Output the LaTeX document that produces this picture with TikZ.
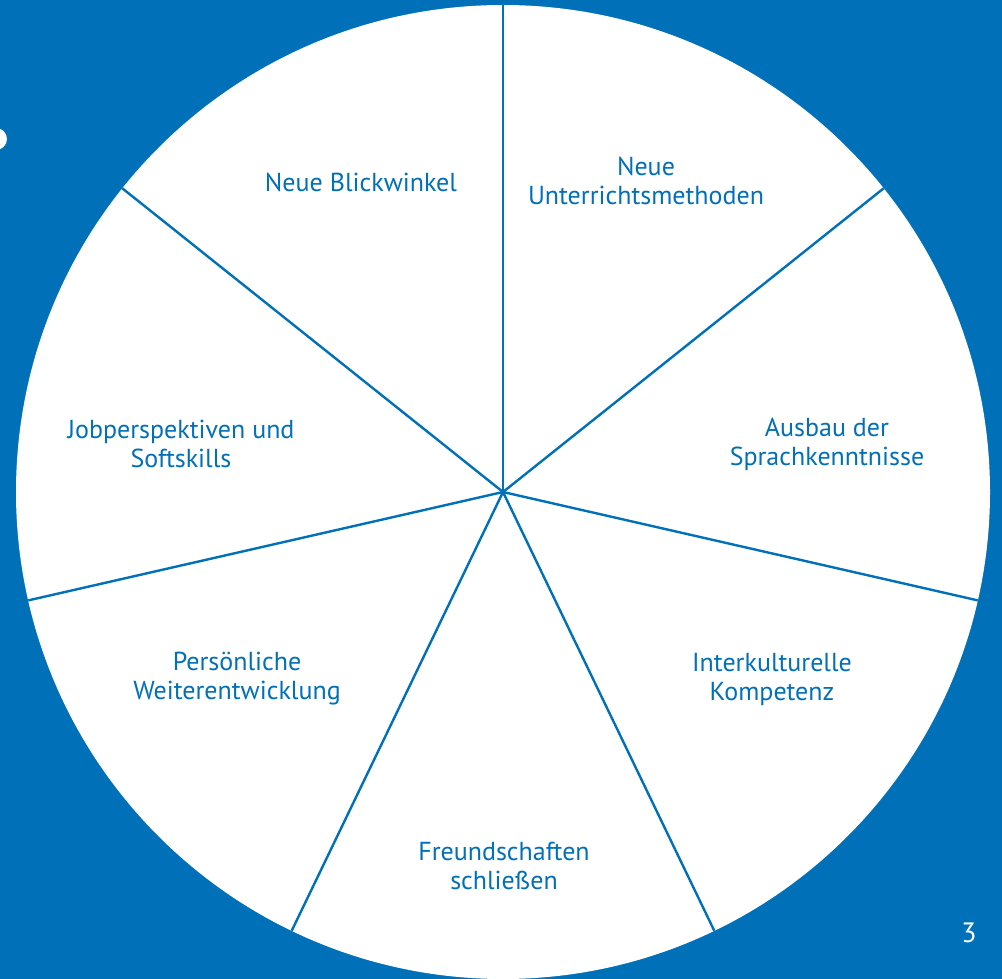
\documentclass[tikz,border=0pt]{standalone}
\usepackage{fontspec}
\setmainfont{PT Sans}
\definecolor{wheelblue}{HTML}{0070B8}
\tikzset{
  segtext/.style={align=center, text=wheelblue, font=\fontsize{26}{29}\selectfont},
  spoke/.style={draw=wheelblue, line width=2.4pt}
}
\begin{document}
\begin{tikzpicture}[x=1pt,y=-1pt]
    \useasboundingbox (0,0) rectangle (1002,979);
    \clip (0,0) rectangle (1002,979);
    \fill[wheelblue] (0,0) rectangle (1002,979);
    \fill[white] (-4,139) circle (11);
    \fill[white] (503,492) circle (487);
    \coordinate (c) at (503,492);
    \coordinate (r1) at (503,5);
    \coordinate (r2) at (883.7,188.3);
    \coordinate (r3) at (977.8,600.4);
    \coordinate (r4) at (714.3,930.8);
    \coordinate (r5) at (291.7,930.8);
    \coordinate (r6) at (28.2,600.4);
    \coordinate (r7) at (122.3,188.3);
    \draw[spoke] (c) -- (r1);
    \draw[spoke] (c) -- (r2);
    \draw[spoke] (c) -- (r3);
    \draw[spoke] (c) -- (r4);
    \draw[spoke] (c) -- (r5);
    \draw[spoke] (c) -- (r6);
    \draw[spoke] (c) -- (r7);
    \node (blick) at (361,182) [segtext] {Neue Blickwinkel};
    \node (unterricht) at (646,181) [segtext] {Neue\\Unterrichtsmethoden};
    \node (sprache) at (827,444) [segtext] {Ausbau der\\Sprachkenntnisse};
    \node (kultur) at (772,679) [segtext] {Interkulturelle\\Kompetenz};
    \node (freunde) at (504,866) [segtext] {Freundschaften\\schließen};
    \node (person) at (237,679) [segtext] {Persönliche\\Weiterentwicklung};
    \node (job) at (181,444) [segtext] {Jobperspektiven und\\Softskills};
    \node (page) at (969,933) [text=white, font=\fontsize{28}{30}\selectfont] {3};
\end{tikzpicture}
\end{document}
